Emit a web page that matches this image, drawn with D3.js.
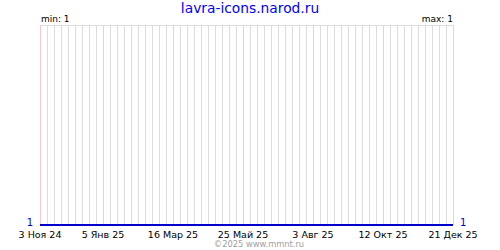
<!DOCTYPE html>
<html>
<head>
<meta charset="utf-8">
<script src="https://cdn.jsdelivr.net/npm/d3@7"></script>
<style>
body { margin: 0; background: #fff; }
text { font-family: "DejaVu Sans", Verdana, sans-serif; }
</style>
</head>
<body>
<div id="chart"></div>
<script>
var svgWidth = 500;
var svgHeight = 250;

var margin = {top: 25, right: 47, bottom: 25, left: 40};
var width = svgWidth - margin.left - margin.right;
var height = svgHeight - margin.top - margin.bottom;

// data
var title = 'lavra-icons.narod.ru';
var footer = '\u00a92025 www.mmnt.ru';
var seriesDates = ['2024-11-03', '2025-12-21'];
var seriesValues = [1, 1];
var tickDates = ['2024-11-03', '2025-01-05', '2025-03-16', '2025-05-25', '2025-08-03', '2025-10-12', '2025-12-21'];
var tickLabels = ['3 Ноя 24', '5 Янв 25', '16 Мар 25', '25 Май 25', '3 Авг 25', '12 Окт 25', '21 Дек 25'];

var parse = d3.utcParse('%Y-%m-%d');
var series = seriesDates.map((d, i) => ({date: parse(d), value: seriesValues[i]}));
var ticks = tickDates.map(parse);

var minV = d3.min(seriesValues);
var maxV = d3.max(seriesValues);

var svg = d3.select('#chart').append('svg')
    .attr('width', svgWidth)
    .attr('height', svgHeight);

var g = svg.append('g')
    .attr('transform', `translate(${margin.left}, ${margin.top})`);

var x = d3.scaleUtc()
    .domain([ticks[0], ticks[ticks.length - 1]])
    .range([0, width]);

var y = d3.scaleLinear()
    .domain([minV, maxV === minV ? minV + 1 : maxV])
    .range([height, 0]);

// weekly grid
var weeks = d3.utcWeek.range(ticks[0], d3.utcDay.offset(ticks[ticks.length - 1], 1));
g.selectAll('.week')
    .data(weeks)
    .enter()
    .append('line')
    .attr('x1', d => Math.round(x(d)) + 0.5)
    .attr('x2', d => Math.round(x(d)) + 0.5)
    .attr('y1', 0)
    .attr('y2', height)
    .attr('stroke', '#dcdcdc');

g.append('line')
    .attr('x1', 0).attr('x2', width)
    .attr('y1', 0.5).attr('y2', 0.5)
    .attr('stroke', '#dcdcdc');

g.selectAll('.major')
    .data(ticks)
    .enter()
    .append('line')
    .attr('x1', d => Math.round(x(d)) + 0.5)
    .attr('x2', d => Math.round(x(d)) + 0.5)
    .attr('y1', 0)
    .attr('y2', height)
    .attr('stroke', '#ffc8c8');

var line = d3.line()
    .x(d => x(d.date))
    .y(d => y(d.value));

g.append('path')
    .datum(series)
    .attr('d', line)
    .attr('fill', 'none')
    .attr('stroke', '#0000cc')
    .attr('stroke-width', 2);

// x labels
g.selectAll('.tick-label')
    .data(ticks)
    .enter()
    .append('text')
    .attr('x', d => x(d))
    .attr('y', height + 13)
    .attr('text-anchor', 'middle')
    .attr('font-size', '9.5px')
    .attr('fill', '#000')
    .text((d, i) => tickLabels[i]);

// value labels at ends
g.append('text')
    .attr('x', -7)
    .attr('y', y(series[0].value) + 1)
    .attr('text-anchor', 'end')
    .attr('font-size', '10px')
    .attr('fill', '#0000cc')
    .text(series[0].value);

g.append('text')
    .attr('x', width + 7)
    .attr('y', y(series[series.length - 1].value) + 1)
    .attr('font-size', '10px')
    .attr('fill', '#0000cc')
    .text(series[series.length - 1].value);

g.append('text')
    .attr('x', 1)
    .attr('y', -3)
    .attr('font-size', '9px')
    .attr('fill', '#000')
    .text('min: ' + minV);

g.append('text')
    .attr('x', width)
    .attr('y', -3)
    .attr('text-anchor', 'end')
    .attr('font-size', '9px')
    .attr('fill', '#000')
    .text('max: ' + maxV);

svg.append('text')
    .attr('x', svgWidth / 2)
    .attr('y', 13)
    .attr('text-anchor', 'middle')
    .attr('font-size', '13.8px')
    .attr('fill', '#0000ff')
    .text(title);

svg.append('text')
    .attr('x', 259)
    .attr('y', 247)
    .attr('text-anchor', 'middle')
    .attr('font-size', '8.3px')
    .attr('fill', '#a0a0a0')
    .text(footer);
</script>
</body>
</html>
